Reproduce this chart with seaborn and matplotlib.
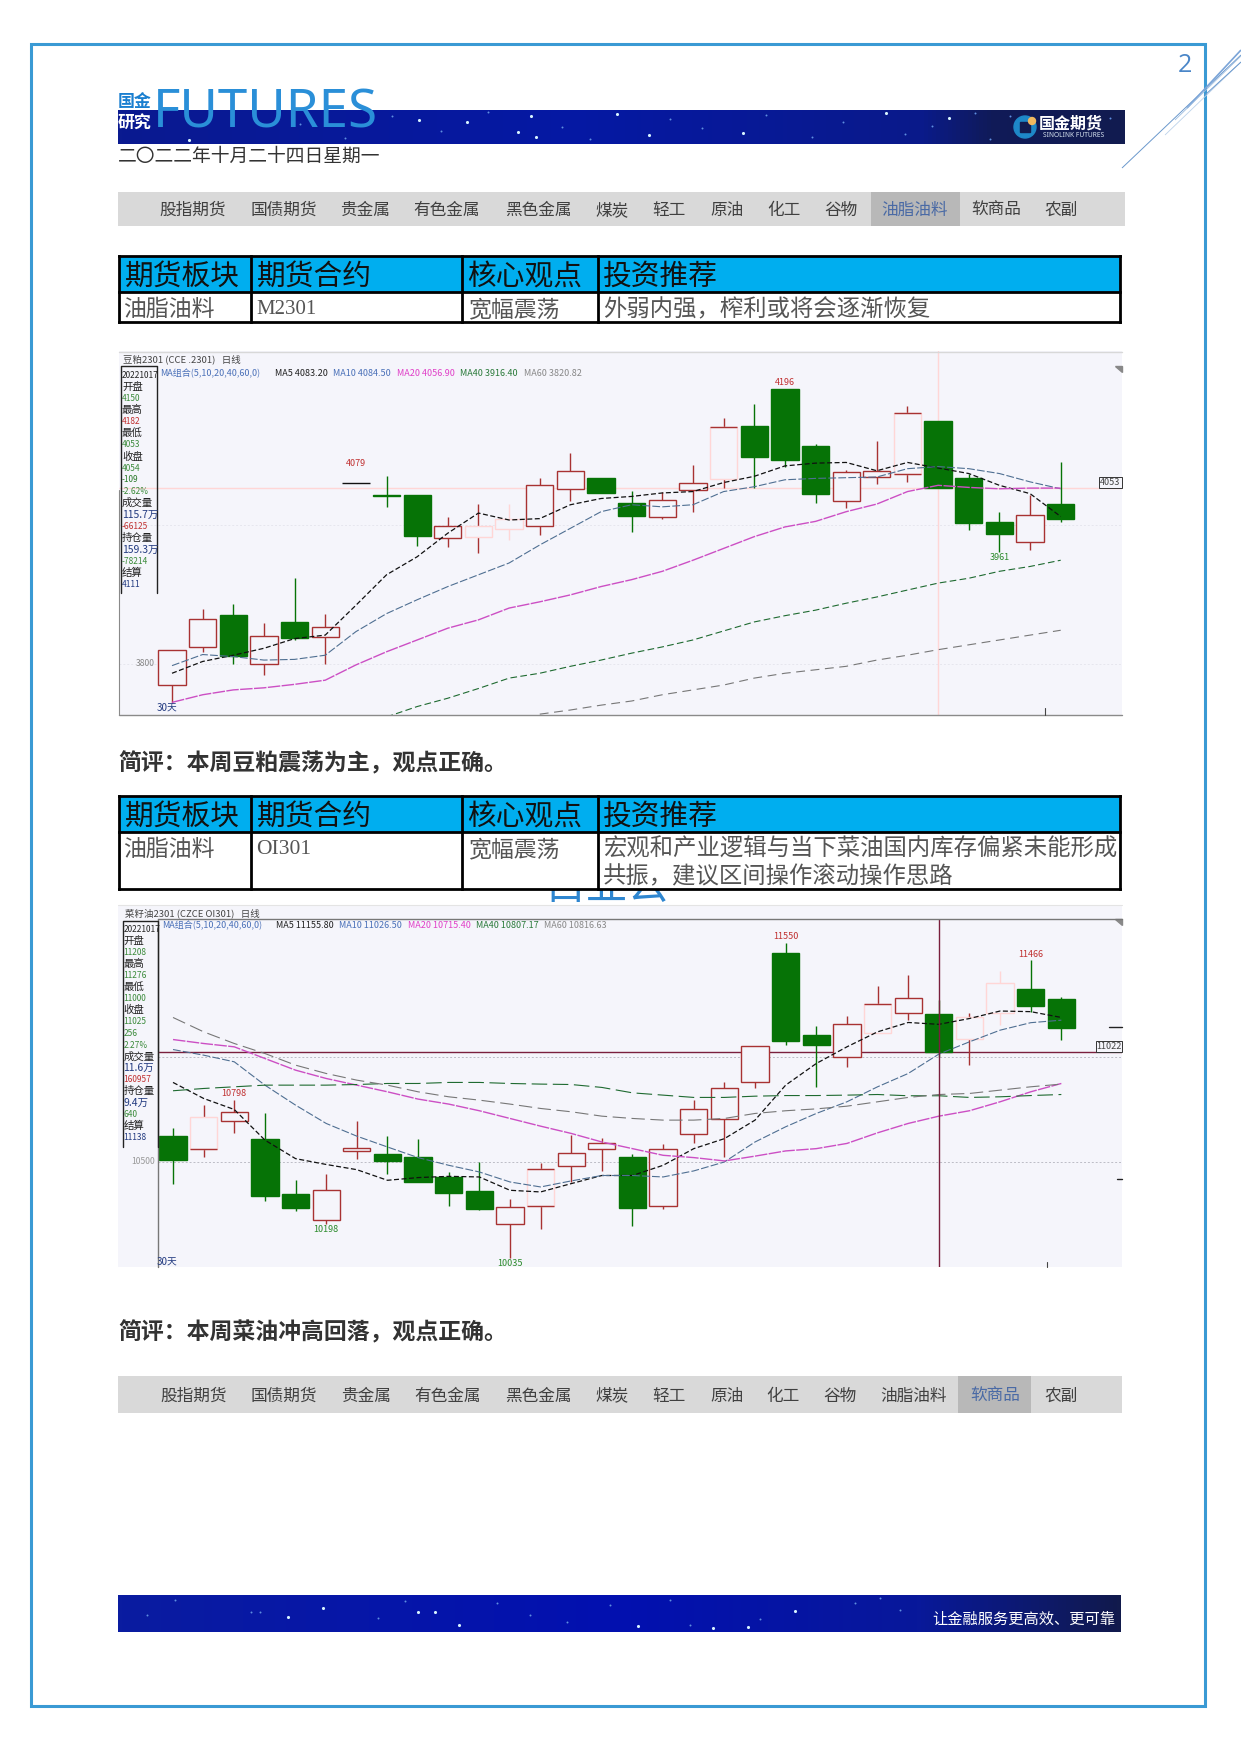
import numpy as np
import pandas as pd
import seaborn as sns
import matplotlib.pyplot as plt
from matplotlib.colors import LinearSegmentedColormap
from matplotlib.patches import Rectangle, Circle

# ---- M2301 (豆粕) ----
m_open = [3769, 3824, 3870, 3800, 3860, 3838, 4060, 4043, 4043, 3981, 3983, 3994, 3999, 4051, 4067,
          4031, 4011, 4050, 4066, 4143, 4196, 4114, 4034, 4069, 4073, 4150, 4067, 4004, 3975, 4030]
m_close = [3819, 3864, 3811, 3839, 3837, 3852, 4060, 4042, 3984, 3999, 3999, 4009, 4057, 4077, 4046,
           4013, 4036, 4060, 4141, 4098, 4093, 4044, 4076, 4078, 4162, 4053, 4003, 3987, 4014, 4008]
m_high = [3819, 3879, 3886, 3858, 3924, 3871, 4060, 4071, 4043, 4011, 4030, 4030, 4067, 4104, 4067,
          4049, 4048, 4086, 4154, 4174, 4196, 4117, 4079, 4121, 4171, 4150, 4074, 4018, 4043, 4091]
m_low = [3743, 3817, 3800, 3784, 3834, 3800, 4060, 4026, 3969, 3968, 3959, 3978, 3985, 4035, 4046,
         3990, 4009, 4019, 4053, 4053, 4084, 4032, 4024, 4059, 4062, 4053, 3993, 3961, 3964, 4004]
m_ma5 = [3786, 3803, 3812, 3822, 3836, 3841, 3884, 3928, 3954, 3988, 4017, 4007, 4009, 4029, 4038,
         4041, 4046, 4048, 4061, 4070, 4085, 4089, 4090, 4078, 4090, 4082, 4074, 4057, 4045, 4012]
m_ma10 = [3797, 3813, 3810, 3805, 3806, 3812, 3846, 3872, 3892, 3911, 3928, 3945, 3971, 3995, 4019,
          4029, 4026, 4029, 4048, 4055, 4065, 4067, 4068, 4069, 4081, 4084, 4081, 4074, 4062, 4052]
m_ma20 = [3744, 3755, 3762, 3765, 3770, 3776, 3798, 3817, 3834, 3851, 3863, 3880, 3889, 3899, 3911,
          3921, 3933, 3949, 3966, 3983, 3997, 4005, 4019, 4030, 4048, 4057, 4054, 4052, 4053, 4053]
m_ma40 = [None, None, None, None, None, None, None, 3723, 3738, 3750, 3764, 3779, 3786, 3796, 3805,
          3815, 3824, 3834, 3847, 3860, 3869, 3877, 3887, 3896, 3906, 3916, 3923, 3933, 3940, 3949]
m_ma60 = [None, None, None, None, None, None, None, None, None, None, None, None, 3727, 3733, 3740,
          3746, 3755, 3762, 3769, 3779, 3786, 3791, 3796, 3805, 3812, 3820, 3827, 3834, 3841, 3848]
m_pale = {10: 'wick', 11: '', 18: 'top wick', 24: 'top bottom wick'}
m_marks = [(6, 'high', '4079', 14), (20, 'high', '4196', 4.3), (27, 'low', '3961', -4)]
m_grid = [4000, 3800]
m_cross_day = 25
m_panel = [('20221017', '#222'), ('开盘', '#222'), ('4150', '#3a8a3a'), ('最高', '#222'), ('4182', '#c03030'),
           ('最低', '#222'), ('4053', '#3a8a3a'), ('收盘', '#222'), ('4054', '#3a8a3a'), ('-109', '#2a7a2a'),
           ('-2.62%', '#3a8a3a'), ('成交量', '#222'), ('115.7万', '#223a80'), ('-66125', '#c03030'),
           ('持仓量', '#222'), ('159.3万', '#223a80'), ('-78214', '#3a8a3a'), ('结算', '#222'), ('4111', '#223a80')]
m_legend = [('MA组合(5,10,20,40,60,0)', '#4a70b8', 160), ('MA5 4083.20', '#222222', 275),
            ('MA10 4084.50', '#4a70b8', 333), ('MA20 4056.90', '#e040c8', 397),
            ('MA40 3916.40', '#2a7a3a', 460), ('MA60 3820.82', '#888888', 524)]

# ---- OI301 (菜油) ----
oi_open = [10622, 10562, 10695, 10607, 10343, 10221, 10551, 10535, 10521, 10426, 10357, 10202, 10288, 10481, 10558,
           10521, 10288, 10630, 10704, 10880, 11503, 11107, 11000, 11119, 11215, 11208, 11087, 11215, 11329, 11280]
oi_close = [10508, 10715, 10736, 10335, 10277, 10365, 10567, 10503, 10402, 10349, 10272, 10284, 10466, 10543, 10591,
            10277, 10562, 10750, 10851, 11053, 11080, 11059, 11159, 11255, 11284, 11025, 11192, 11359, 11248, 11143]
oi_high = [10663, 10771, 10798, 10731, 10410, 10439, 10696, 10622, 10610, 10450, 10498, 10319, 10495, 10627, 10615,
           10538, 10582, 10798, 10880, 11053, 11550, 11152, 11197, 11343, 11396, 11276, 11215, 11415, 11466, 11292]
oi_low = [10391, 10522, 10635, 10311, 10261, 10198, 10514, 10442, 10402, 10287, 10266, 10035, 10175, 10402, 10455,
          10192, 10274, 10587, 10522, 10851, 11059, 10859, 10955, 11119, 11180, 11000, 10965, 11155, 11220, 11083]
oi_ma5 = [10880, 10803, 10750, 10603, 10514, 10486, 10461, 10410, 10423, 10429, 10426, 10362, 10354, 10394, 10433,
          10433, 10482, 10562, 10610, 10699, 10867, 10971, 11051, 11123, 11168, 11159, 11187, 11223, 11220, 11192]
oi_ma10 = [11038, 11011, 10979, 10867, 10771, 10683, 10622, 10570, 10519, 10482, 10450, 10402, 10378, 10407, 10433,
           10433, 10426, 10455, 10498, 10594, 10667, 10731, 10787, 10859, 10923, 11016, 11075, 11131, 11167, 11179]
oi_ma20 = [11086, 11067, 11051, 10995, 10939, 10899, 10867, 10835, 10800, 10776, 10744, 10707, 10670, 10635, 10594,
           10562, 10530, 10519, 10503, 10526, 10551, 10562, 10587, 10638, 10683, 10718, 10744, 10787, 10835, 10875]
oi_ma40 = [10840, 10851, 10859, 10867, 10867, 10867, 10870, 10875, 10875, 10880, 10880, 10875, 10872, 10870, 10856,
           10830, 10819, 10808, 10808, 10814, 10817, 10817, 10819, 10822, 10816, 10816, 10808, 10811, 10817, 10822]
oi_ma60 = [11192, 11123, 11067, 11019, 10963, 10923, 10891, 10867, 10835, 10811, 10795, 10776, 10755, 10739, 10718,
           10707, 10699, 10699, 10707, 10731, 10744, 10753, 10766, 10787, 10808, 10822, 10827, 10843, 10859, 10872]
oi_pale = {1: 'bottom wick', 12: 'top bottom wick', 23: 'top wick', 26: 'wick', 27: ''}
oi_marks = [(2, 'high', '10798', 4.3), (5, 'low', '10198', -4), (11, 'low', '10035', -4),
            (20, 'high', '11550', 4.3), (28, 'high', '11466', 4.3)]
oi_grid = [11000, 10500]
oi_cross_day = 25
oi_panel = [('20221017', '#222'), ('开盘', '#222'), ('11208', '#3a8a3a'), ('最高', '#222'), ('11276', '#3a8a3a'),
            ('最低', '#222'), ('11000', '#3a8a3a'), ('收盘', '#222'), ('11025', '#3a8a3a'), ('256', '#3a8a3a'),
            ('2.27%', '#3a8a3a'), ('成交量', '#222'), ('11.6万', '#223a80'), ('160957', '#c03030'),
            ('持仓量', '#222'), ('9.4万', '#223a80'), ('640', '#3a8a3a'), ('结算', '#222'), ('11138', '#223a80')]
oi_legend = [('MA组合(5,10,20,40,60,0)', '#4a70b8', 162), ('MA5 11155.80', '#222222', 276),
             ('MA10 11026.50', '#4a70b8', 339), ('MA20 10715.40', '#e040c8', 408),
             ('MA40 10807.17', '#2a7a3a', 476), ('MA60 10816.63', '#888888', 544)]

# ---- page text ----
nav_items = ['股指期货', '国债期货', '贵金属', '有色金属', '黑色金属', '煤炭', '轻工', '原油', '化工', '谷物', '油脂油料', '软商品', '农副']
table_head = ['期货板块', '期货合约', '核心观点', '投资推荐']

W, H = 1241, 1754
BG = '#f5f5fb'
RED = '#a83232'
GREEN = '#067306'
PALE = '#ffd6d6'

sns.set_theme(style='white')
plt.rcParams['font.family'] = ['Noto Sans CJK SC', 'DejaVu Sans']
plt.rcParams['axes.unicode_minus'] = False

fig = plt.figure(figsize=(W / 100, H / 100), dpi=100, facecolor='white')


def px_axes(x0, y0, x1, y1, z):
    a = fig.add_axes([x0 / W, 1 - y1 / H, (x1 - x0) / W, (y1 - y0) / H], zorder=z)
    return a


def candles(ax, o, h, l, c, pale):
    hw = 0.445
    for i in range(len(o)):
        mode = pale.get(i)
        if c[i] > o[i]:
            col = PALE if mode is not None else RED
            face = BG
        elif c[i] < o[i]:
            col = face = GREEN
        else:
            col = face = '#111111'
        wick = RED if mode and 'wick' in mode else col
        ax.vlines(i, l[i], h[i], color=wick, lw=1.0, zorder=2)
        ax.bar(i, abs(c[i] - o[i]), bottom=min(o[i], c[i]), width=hw * 2, facecolor=face,
               edgecolor=col, lw=1.0, zorder=3)
        if mode and 'top' in mode:
            ax.hlines(c[i], i - hw, i + hw, color=RED, lw=1.0, zorder=3.5)
        if mode and 'bottom' in mode:
            ax.hlines(o[i], i - hw, i + hw, color=RED, lw=1.0, zorder=3.5)


def ma_lines(ax, days, series):
    for vals, col, lw, dash in series:
        sns.lineplot(x=days, y=pd.Series(vals, dtype=float), color=col, linewidth=lw, linestyle=(0, dash),
                     errorbar=None, legend=False, ax=ax, zorder=4)


def price_chart(box, ylim, xlim, o, h, l, c, mas, pale, marks, grid, grid_col, cross_day, cross_col, cross_from):
    ax = px_axes(*box, 2)
    ax.set_facecolor(BG)
    days = np.arange(len(o))
    for g in grid:
        ax.hlines(g, cross_from, xlim[1], color=grid_col, lw=0.7, ls=(0, (2, 2)), zorder=1)
    ax.hlines(c[cross_day], cross_from, xlim[1], color=cross_col, lw=1.0, zorder=1.5)
    ax.axvline(cross_day, color=cross_col, lw=1.0, zorder=5 if cross_col != PALE else 1.5)
    candles(ax, o, h, l, c, pale)
    ma_lines(ax, days, mas)
    for i, kind, txt, off in marks:
        y = h[i] if kind == 'high' else l[i]
        ax.annotate(txt, (i, y), xytext=(0, off), textcoords='offset points', ha='center', va='center',
                    fontsize=6.5, color='#c03030' if kind == 'high' else '#2a8a2a', zorder=6)
    ax.set_xlim(*xlim)
    ax.set_ylim(*ylim)
    ax.set_xticks([])
    ax.set_yticks([])
    ax.set_xlabel('')
    ax.set_ylabel('')
    sns.despine(ax=ax, left=True, bottom=True)
    return ax


page = px_axes(0, 0, W, H, 0)
page.set_xlim(0, W)
page.set_ylim(H, 0)
page.axis('off')
over = px_axes(0, 0, W, H, 5)
over.set_xlim(0, W)
over.set_ylim(H, 0)
over.axis('off')
over.patch.set_alpha(0)

# page frame and corner lines
page.add_patch(Rectangle((30.5, 44), 1174, 1662, fill=False, ec='#3a9ad4', lw=2.2))
page.text(1185, 66, '2', fontsize=18, color='#4a86c8', ha='center', va='center', family='Open Sans')
for x0, y0, x1, y1, col, lw in [(1122, 168, 1241, 55, '#6a98cc', 0.7), (1165, 135, 1241, 62, '#bcd2ea', 0.6),
                                (1187, 108, 1241, 50, '#7aa4d8', 1.2), (1205, 95, 1241, 62, '#6a98cc', 0.7),
                                (1175, 120, 1241, 56, '#9dbde0', 0.6)]:
    page.plot([x0, x1], [y0, y1], color=col, lw=lw, solid_capstyle='butt')


def banner(x0, y0, x1, y1, stops, stars, specks):
    cmap = LinearSegmentedColormap.from_list('b', stops)
    page.imshow(np.linspace(0, 1, 256)[None, :], cmap=cmap, extent=(x0, x1, y1, y0), aspect='auto', zorder=1)
    page.scatter([s[0] for s in stars], [s[1] for s in stars], s=5, c='#d8f4ff', lw=0, zorder=2)
    page.scatter([s[0] for s in specks], [s[1] for s in specks], s=2, c='#5f8fe0', lw=0, zorder=2)


banner(118, 110, 1125, 144, [(0, '#0a1a90'), (0.45, '#0518a4'), (0.8, '#0a1a8a'), (0.87, '#101a58'), (1, '#121c50')],
       [(419, 120), (467, 122), (518, 132), (536, 137), (617, 114), (649, 135), (886, 113), (949, 118),
        (189, 140), (743, 133), (531, 116)],
       [(300, 124), (345, 138), (392, 116), (441, 131), (488, 112), (562, 127), (590, 139), (670, 119), (702, 128),
        (766, 115), (812, 137), (843, 122), (905, 134), (932, 126), (975, 113), (990, 139), (1010, 116), (1110, 118)])
banner(118, 1595, 1121, 1632, [(0, '#0a1ca0'), (0.5, '#0210b0'), (0.8, '#08189a'), (1, '#111a4c')],
       [(323, 1608), (418, 1612), (435, 1612), (288, 1617), (459, 1625), (638, 1626), (713, 1628), (748, 1627),
        (795, 1611)],
       [(147, 1615), (175, 1600), (251, 1612), (260, 1612), (378, 1618), (405, 1601), (497, 1603), (530, 1615),
        (567, 1622), (610, 1605), (670, 1600), (690, 1625), (760, 1619), (855, 1603), (880, 1598), (900, 1610)])
page.set_xlim(0, W)
page.set_ylim(H, 0)

page.text(153, 128, 'FUTURES', fontsize=38, color='#2a8fd8', family='Noto Sans', weight='medium', va='baseline',
          zorder=3)
page.text(135, 102, '国金', fontsize=12.2, color='#1a7fd0', ha='center', va='center', weight='bold', zorder=3)
page.text(135, 123, '研究', fontsize=12.2, color='white', ha='center', va='center', weight='bold', zorder=3)
page.text(118, 156, '二〇二二年十月二十四日星期一', fontsize=13.5, color='#333333', va='center', zorder=3)

# logo
page.add_patch(Circle((1025, 127), 11, color='#1e88c8', zorder=3))
page.add_patch(Rectangle((1020, 122), 10, 10, color='#121c50', zorder=4))
page.add_patch(Circle((1032, 121), 3.5, color='#f0b860', zorder=5))
page.text(1071, 124, '国金期货', fontsize=11.5, color='white', weight='bold', ha='center', va='center', zorder=3)
page.text(1074, 135.5, 'SINOLINK FUTURES', fontsize=4.8, color='#d8e4f0', weight='bold', ha='center', va='center',
          family='Noto Sans', zorder=3)
page.text(1024, 1619, '让金融服务更高效、更可靠', fontsize=11, color='white', ha='center', va='center', zorder=3)


def nav(y0, y1, xs, active, x_act0, x_act1, bar_x1):
    page.add_patch(Rectangle((118, y0), bar_x1 - 118, y1 - y0, color='#d9d9d9', lw=0))
    page.add_patch(Rectangle((x_act0, y0), x_act1 - x_act0, y1 - y0, color='#b8b8b8', lw=0))
    for name, x in zip(nav_items, xs):
        page.text(x, (y0 + y1) / 2 + 1.5, name, fontsize=12, ha='center', va='center',
                  color='#4a6aa5' if name == active else '#404040')


nav(192, 226, [193, 284, 365, 447, 538, 612, 669, 727, 784, 841, 915, 996, 1061], '油脂油料', 871, 960, 1125)
nav(1376, 1413, [194, 284, 366, 448, 538, 612, 669, 727, 783, 840, 914, 995, 1061], '软商品', 958, 1031, 1122)


def table(y0, ym, y1, rows):
    cols = [118.5, 251, 461.5, 597.5, 1120]
    text_x = [125, 257, 467, 603]
    page.add_patch(Rectangle((cols[0], y0), cols[-1] - cols[0], ym - y0, color='#00aeef', lw=0, zorder=2))
    page.add_patch(Rectangle((cols[0], ym), cols[-1] - cols[0], y1 - ym, color='white', lw=0, zorder=2))
    for x in cols:
        page.plot([x, x], [y0, y1], color='black', lw=2.0, zorder=3, solid_capstyle='projecting')
    for y in (y0, ym, y1):
        page.plot([cols[0], cols[-1]], [y, y], color='black', lw=2.0, zorder=3, solid_capstyle='projecting')
    for x, name in zip(text_x, table_head):
        page.text(x, (y0 + ym) / 2 + 3, name, fontsize=20.7, color='#111111', va='center', zorder=4)
    for x, y, txt, fam, size in rows:
        page.text(x, y + 2.5, txt, fontsize=size, color='#555555', va='center', family=fam, zorder=4)


cjk = ['Noto Sans CJK SC', 'DejaVu Sans']
serif = 'Liberation Serif'
# blue text partly hidden behind the second table
page.text(607, 887, '目业公', fontsize=30, color='#2e86d0', ha='center', va='center', zorder=1)
table(256, 292, 322, [(123, 307, '油脂油料', cjk, 16.5), (256, 307, 'M2301', serif, 15),
                      (468, 307, '宽幅震荡', cjk, 16.5), (603, 307, '外弱内强，榨利或将会逐渐恢复', cjk, 16.8)])
table(796, 832, 889, [(123, 847, '油脂油料', cjk, 16.5), (256, 847, 'OI301', serif, 15.5),
                      (468, 847, '宽幅震荡', cjk, 16.5), (603, 847, '宏观和产业逻辑与当下菜油国内库存偏紧未能形成', cjk, 16.8),
                      (603, 874, '共振，建议区间操作滚动操作思路', cjk, 16.8)])

page.text(118, 764, '简评：本周豆粕震荡为主，观点正确。', fontsize=16.5, weight='bold', color='#333333', va='center')
page.text(118, 1333, '简评：本周菜油冲高回落，观点正确。', fontsize=16.5, weight='bold', color='#333333', va='center')

# chart backgrounds incl. header strips
page.add_patch(Rectangle((119, 351), 1003, 364, color=BG, lw=0))
page.add_patch(Rectangle((118, 905), 1004, 362, color=BG, lw=0))

m_series = [(m_ma5, '#111111', 0.9, (4, 2)), (m_ma10, '#4f6f92', 0.8, (7, 2)), (m_ma20, '#cc4fc4', 1.0, (9, 1)),
            (m_ma40, '#1e6a30', 0.8, (6, 3)), (m_ma60, '#777777', 0.8, (8, 5))]
price_chart((119, 351, 1122, 715), (3725.8, 4250.7), (-1.73, 31.0), m_open, m_high, m_low, m_close,
            m_series, m_pale, m_marks, m_grid, '#e6e6ee', m_cross_day, PALE, -1.73)

oi_series = [(oi_ma5, '#111111', 0.9, (4, 2)), (oi_ma10, '#4f6f92', 0.8, (7, 2)), (oi_ma20, '#cc4fc4', 1.0, (9, 1)),
             (oi_ma40, '#1e6a30', 0.8, (14, 5)), (oi_ma60, '#777777', 0.8, (12, 5))]
price_chart((118, 919, 1122, 1267), (9993.5, 11665), (-1.796, 30.98), oi_open, oi_high, oi_low, oi_close,
            oi_series, oi_pale, oi_marks, oi_grid, '#bdbdc6', oi_cross_day, '#7a1f3d', -0.5)


def panel(x0, x1, y0, y1, first_y, step, items):
    over.plot([x0, x0, x1, x1], [y1, y0, y0, y1], color='#222222', lw=1.0)
    for k, (txt, col) in enumerate(items):
        is_num = txt[-1] in '0123456789%'
        over.text(x0 + 1, first_y + k * step + 1, txt, fontsize=6 if is_num else 7.5, color=col, va='center')


def legend_row(y, items):
    for txt, col, x in items:
        over.text(x, y + 1, txt, fontsize=6.5, color=col, va='center')


def box_label(x0, x1, y0, y1, txt):
    over.add_patch(Rectangle((x0, y0), x1 - x0, y1 - y0, fc=BG, ec='#333333', lw=0.7))
    over.text((x0 + x1) / 2, (y0 + y1) / 2, txt, fontsize=6.5, color='#444444', ha='center', va='center')


# chart 1 overlays
over.plot([119, 1122], [352, 352], color='#d8d8d8', lw=1)
over.plot([119, 1122], [715, 715], color='#8a8a8a', lw=1)
over.plot([119, 119], [490, 715], color='#8a8a8a', lw=0.8)
over.text(123, 359, '豆粕2301 (CCE .2301)   日线', fontsize=6.8, color='#444444', va='center')
legend_row(372, m_legend)
panel(121, 157, 366, 593, 374, 11.65, m_panel)
over.text(157, 708, '30天', fontsize=7, color='#223a80', va='center')
over.text(155, 663, '3800', fontsize=6.2, color='#888888', va='center', ha='right')
box_label(1099, 1122, 477, 488, '4053')
over.plot([1045, 1045], [708, 715], color='#444444', lw=0.8)
over.fill([1115, 1122, 1122], [366, 366, 372], color='#888888')

# chart 2 overlays
over.plot([118, 1122], [905, 905], color='#e4e4e4', lw=0.8)
over.plot([157.5, 1122], [919, 919], color='#777777', lw=1)
over.plot([157.5, 157.5], [919, 1267], color='#777777', lw=1)
over.text(125, 913, '菜籽油2301 (CZCE OI301)   日线', fontsize=6.8, color='#444444', va='center')
legend_row(925, oi_legend)
panel(122.5, 157.5, 921, 1147, 928, 11.6, oi_panel)
over.text(157, 1262, '30天', fontsize=7, color='#223a80', va='center')
over.text(155, 1161, '10500', fontsize=6.2, color='#999999', va='center', ha='right')
box_label(1096, 1122, 1041, 1052, '11022')
over.plot([1109, 1122], [1027, 1027], color='#222222', lw=1)
over.plot([1117, 1122], [1179, 1179], color='#222222', lw=1)
over.plot([1047, 1047], [1262, 1267], color='#444444', lw=0.8)
over.fill([1115, 1122, 1122], [919, 919, 925], color='#888888')

fig.savefig('out.png', dpi=100, facecolor='white')
